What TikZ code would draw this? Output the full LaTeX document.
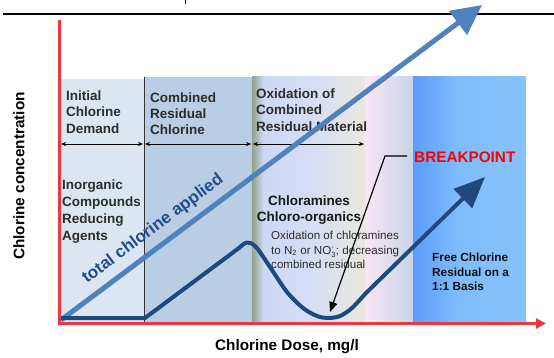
\documentclass[tikz,border=0pt]{standalone}
\usepackage{fontspec}
\setmainfont{Liberation Sans}
\usetikzlibrary{arrows.meta}
\definecolor{axisred}{RGB}{234,56,62}
\definecolor{regA}{RGB}{220,230,242}
\definecolor{regB}{RGB}{185,205,228}
\definecolor{totblue}{RGB}{79,129,189}
\definecolor{resblue}{RGB}{31,73,125}
\definecolor{txtgrey}{RGB}{45,45,45}
\definecolor{lblblue}{RGB}{35,78,138}
\pgfdeclarehorizontalshading{oxshade}{100bp}{rgb(0bp)=(0.57,0.63,0.54); rgb(25bp)=(0.57,0.63,0.54); rgb(30bp)=(0.80,0.85,0.95); rgb(50bp)=(0.835,0.865,0.965); rgb(75bp)=(0.91,0.91,0.875); rgb(100bp)=(0.91,0.91,0.875)}
\pgfdeclarehorizontalshading{freeshade}{100bp}{rgb(0bp)=(0.36,0.61,0.98); rgb(25bp)=(0.36,0.61,0.98); rgb(45bp)=(0.50,0.74,0.99); rgb(75bp)=(0.53,0.76,0.99); rgb(100bp)=(0.53,0.76,0.99)}
\tikzset{
  lbl/.style={anchor=west, align=left, inner sep=0pt, text=txtgrey, font=\fontsize{13.5}{16.2}\selectfont\bfseries},
  dimarrow/.style={{Stealth[length=5pt,width=4pt]}-{Stealth[length=5pt,width=4pt]}, line width=0.7pt, black},
  axisline/.style={axisred, line width=3pt},
  totalarrow/.style={totblue, line width=5pt, -{Triangle[length=30pt,width=29pt]}},
  residline/.style={resblue, line width=4pt, line join=round, -{Triangle[length=31pt,width=26pt]}},
  leader/.style={black, line width=1.2pt, -{Triangle[length=10pt,width=8pt]}}
}
\begin{document}
\begin{tikzpicture}[x=1pt,y=-1pt]
\useasboundingbox (0,0) rectangle (554,358);
% regions
\fill[regA] (60,79) rectangle (144,322);
\fill[regB] (144,77) rectangle (252,322);
\shade[shading=oxshade] (252,77) rectangle (365,322);
\shade[left color={rgb,255:red,248;green,230;blue,246}, right color={rgb,255:red,200;green,212;blue,230}] (365,77) rectangle (413,322);
\shade[shading=freeshade] (413,77) rectangle (526,322);
\draw[black!80, line width=0.8pt] (144,77) -- (144,322);
% top rule and fragment
\draw[black, line width=1.3pt] (3,14) -- (554,14);
\fill[black] (184.5,0) rectangle (186.2,4);
% axes
\coordinate (ytop) at (59,20);
\coordinate (orig) at (59,323.5);
\coordinate (xend) at (546,323.5);
\draw[axisline] (ytop) -- (orig);
\draw[axisline, -{Triangle[length=10pt,width=10pt]}] (57.5,323.5) -- (xend);
% dimension arrows
\coordinate (d0) at (61,144); \coordinate (d1) at (143,144);
\coordinate (d2) at (145,144); \coordinate (d3) at (251,144);
\coordinate (d4) at (253,144); \coordinate (d5) at (364,144);
\draw[dimarrow] (d0) -- (d1);
\draw[dimarrow] (d2) -- (d3);
\draw[dimarrow] (d4) -- (d5);
% region labels
\node[lbl] (l1) at (66,112) {Initial\\Chlorine\\Demand};
\node[lbl] (l2) at (150,113.5) {Combined\\Residual\\Chlorine};
\node[lbl] (l3) at (256,110) {Oxidation of\\Combined\\Residual Material};
\node[lbl, font=\fontsize{13.5}{16.7}\selectfont\bfseries] (l4) at (62,211.5) {Inorganic\\Compounds\\Reducing\\Agents};
\node[lbl, anchor=center, align=center, text=black!90] (l5) at (309,210) {Chloramines\\Chloro-organics};
\node[lbl, font=\fontsize{11.6}{14.5}\selectfont] (l6) at (271,250) {Oxidation of chloramines\\to N$_{\mbox{\fontsize{7.5}{8}\selectfont 2}}$ or NO$_{\mbox{\fontsize{7.5}{8}\selectfont 3}}^{\mbox{\fontsize{7.5}{8}\selectfont -}}$; decreasing\\combined residual};
\node[lbl, text=black!92, font=\fontsize{11.8}{14.5}\selectfont\bfseries] (l7) at (432,272) {Free Chlorine\\Residual on a\\1:1 Basis};
\node[lbl, text={rgb,255:red,255;green,0;blue,0}, font=\fontsize{15.3}{18}\selectfont\bfseries] (bp) at (414,157) {BREAKPOINT};
% axis titles
\node[inner sep=0pt, font=\fontsize{15.3}{18}\selectfont\bfseries] (xt) at (287,347) {Chlorine Dose, mg/l};
\node[inner sep=0pt, rotate=90, font=\fontsize{15.3}{18}\selectfont\bfseries] (yt) at (19,176) {Chlorine concentration};
% total chlorine applied
\node[inner sep=0pt, rotate=36.8, text=lblblue, font=\fontsize{17}{20}\selectfont\bfseries] (tl) at (153,229) {total chlorine applied};
\coordinate (ta0) at (61,320);
\coordinate (ta1) at (482,5);
\draw[totalarrow] (ta0) -- (ta1);
% combined residual curve
\coordinate (c0) at (61,318);
\coordinate (c1) at (145,318);
\coordinate (c5) at (485,177);
\draw[residline] (c0) -- (c1) -- plot[smooth, tension=0.55] coordinates {(239,248) (247,242.5) (256,247) (270,267) (287,292) (303,308) (317,316) (328,318) (340,316) (352,308) (365,294)} -- (c5);
% breakpoint leader
\coordinate (k0) at (407,156);
\coordinate (k1) at (385,156);
\coordinate (k2) at (330,312);
\draw[leader] (k0) -- (k1) -- (k2);
\end{tikzpicture}
\end{document}
